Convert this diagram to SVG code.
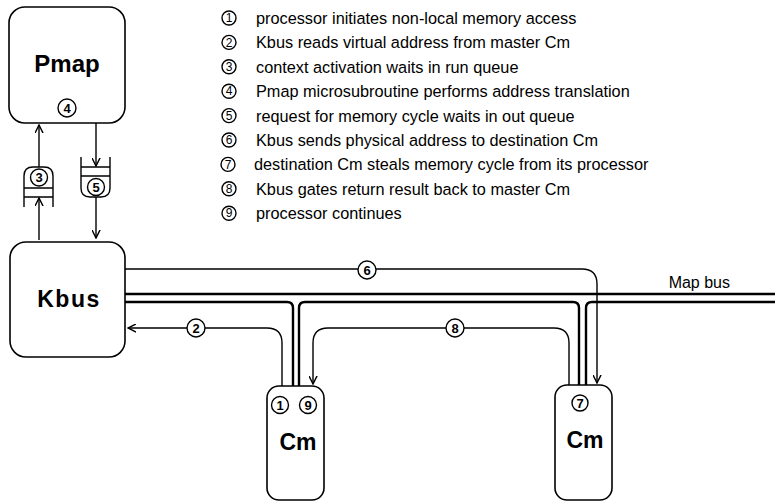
<svg xmlns="http://www.w3.org/2000/svg" width="775" height="502" viewBox="0 0 775 502">
<defs>
<style>
.box{fill:#fff;stroke:#000;stroke-width:1.6}
.ln{fill:none;stroke:#000;stroke-width:1.4}
.bus{fill:none;stroke:#000;stroke-width:2.4}
.cw{fill:#fff;stroke:#000;stroke-width:1.4}
.num{font-family:"Liberation Sans",Arial,sans-serif;font-size:13px;font-weight:bold;text-anchor:middle}
.lnum{font-family:"Liberation Sans",Arial,sans-serif;font-size:12px;text-anchor:middle}
.big{font-family:"Liberation Sans",Arial,sans-serif;font-weight:bold;text-anchor:middle}
.leg{font-family:"Liberation Sans",Arial,sans-serif;font-size:16.3px}
</style>
<marker id="ar" viewBox="0 0 10 10" refX="9" refY="5" markerWidth="9" markerHeight="9" markerUnits="userSpaceOnUse" orient="auto">
<path d="M0,0.5 L9,5 L0,9.5" fill="none" stroke="#000" stroke-width="1.6"/>
</marker>
</defs>
<rect width="775" height="502" fill="#fff"/>

<g id="connectors">
<path class="bus" d="M125,294 H775"/>
<path class="bus" d="M125,302 H287 Q293,302 293,308 V386"/>
<path class="bus" d="M299,386 V308 Q299,302 305,302 H573 Q579,302 579,308 V385"/>
<path class="bus" d="M586,385 V308 Q586,302 592,302 H775"/>
<path class="ln" d="M125,269 H582 Q597,269 597,284 V383" marker-end="url(#ar)"/>
<path class="ln" d="M282,386 V343 Q282,328 267,328 H128" marker-end="url(#ar)"/>
<path class="ln" d="M569,385 V343 Q569,328 554,328 H328 Q313,328 313,343 V384" marker-end="url(#ar)"/>
<path class="ln" d="M39,240 V198" marker-end="url(#ar)"/>
<path class="ln" d="M39,167 V125" marker-end="url(#ar)"/>
<path class="ln" d="M96,123 V166" marker-end="url(#ar)"/>
<path class="ln" d="M96,197 V238" marker-end="url(#ar)"/>
<circle class="cw" cx="367" cy="270" r="9"/><text class="num" x="367" y="274.7">6</text>
<circle class="cw" cx="196" cy="328" r="9"/><text class="num" x="196" y="332.7">2</text>
<circle class="cw" cx="455" cy="328" r="9"/><text class="num" x="455" y="332.7">8</text>
<text x="730" y="288" font-family="Liberation Sans, Arial, sans-serif" font-size="16" text-anchor="end">Map bus</text>
</g>

<g id="queue3">
<path class="ln" d="M24,207 V176 Q24,167 33,167 H44 Q53,167 53,176 V207 M24,188 H53 M24,197 H53"/>
<circle class="cw" cx="39" cy="177.5" r="8.5"/><text class="num" x="39" y="182.2">3</text>
</g>
<g id="queue5">
<path class="ln" d="M81,157 V188 Q81,197 90,197 H101 Q110,197 110,188 V157 M81,167 H110 M81,176 H110"/>
<circle class="cw" cx="96" cy="187" r="8.5"/><text class="num" x="96" y="191.7">5</text>
</g>

<g id="pmap">
<rect class="box" x="9" y="7" width="116" height="116" rx="16"/>
<text class="big" x="67" y="72" font-size="24">Pmap</text>
<circle class="cw" cx="67" cy="108" r="9"/><text class="num" x="67" y="112.7">4</text>
</g>

<g id="kbus">
<rect class="box" x="10" y="242" width="115" height="115" rx="16"/>
<text class="big" x="69" y="307" font-size="23" letter-spacing="1.5">Kbus</text>
</g>

<g id="cm1">
<rect class="box" x="267" y="386" width="57" height="114" rx="12"/>
<circle class="cw" cx="280" cy="405" r="8.5"/><text class="num" x="280" y="409.7">1</text>
<circle class="cw" cx="308" cy="405" r="8.5"/><text class="num" x="308" y="409.7">9</text>
<text class="big" x="298" y="450" font-size="23">Cm</text>
</g>

<g id="cm2">
<rect class="box" x="555" y="385" width="57" height="115" rx="12"/>
<circle class="cw" cx="580" cy="403" r="8"/><text class="num" x="580" y="407.7">7</text>
<text class="big" x="585" y="448" font-size="23">Cm</text>
</g>

<g id="legend">
<circle class="cw" cx="229" cy="18" r="7"/><text class="lnum" x="229" y="22.2">1</text>
<text class="leg" x="256" y="24">processor initiates non-local memory access</text>
<circle class="cw" cx="229" cy="42.4" r="7"/><text class="lnum" x="229" y="46.6">2</text>
<text class="leg" x="256" y="48.4">Kbus reads virtual address from master Cm</text>
<circle class="cw" cx="229" cy="66.8" r="7"/><text class="lnum" x="229" y="71">3</text>
<text class="leg" x="256" y="72.8">context activation waits in run queue</text>
<circle class="cw" cx="229" cy="91.2" r="7"/><text class="lnum" x="229" y="95.4">4</text>
<text class="leg" x="256" y="97.2">Pmap microsubroutine performs address translation</text>
<circle class="cw" cx="229" cy="115.6" r="7"/><text class="lnum" x="229" y="119.8">5</text>
<text class="leg" x="256" y="121.6">request for memory cycle waits in out queue</text>
<circle class="cw" cx="229" cy="140" r="7"/><text class="lnum" x="229" y="144.2">6</text>
<text class="leg" x="256" y="146">Kbus sends physical address to destination Cm</text>
<circle class="cw" cx="228" cy="164.4" r="7"/><text class="lnum" x="228" y="168.6">7</text>
<text class="leg" x="254" y="170.4">destination Cm steals memory cycle from its processor</text>
<circle class="cw" cx="229" cy="188.8" r="7"/><text class="lnum" x="229" y="193">8</text>
<text class="leg" x="256" y="194.8">Kbus gates return result back to master Cm</text>
<circle class="cw" cx="229" cy="213.2" r="7"/><text class="lnum" x="229" y="217.4">9</text>
<text class="leg" x="256" y="219.2">processor continues</text>
</g>
</svg>
